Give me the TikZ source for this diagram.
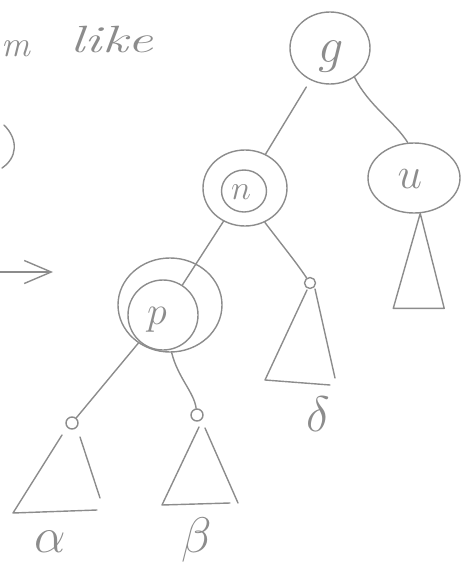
\RequirePackage{fix-cm}
\documentclass[tikz,border=0pt]{standalone}
\usetikzlibrary{arrows.meta,shapes.geometric}
\definecolor{pencil}{gray}{0.55}

\begin{document}
\begin{tikzpicture}[x=1pt, y=-1pt, line width=1.4pt, line cap=round, line join=round,
  color=pencil,
  bubble/.style={ellipse, draw, inner sep=0pt},
  knob/.style={circle, draw, inner sep=0pt, minimum size=#1},
  lbl/.style={inner sep=0pt, font=\fontsize{#1}{#1}\selectfont},
  hand/.style={inner sep=0pt, font=\fontsize{#1}{#1}\selectfont\itshape}]
  \useasboundingbox (0,0) rectangle (466,562);

  % left-over scribbles of the text beside the tree
  \node[hand=36] (word-m) at (16,49) {m};
  \node[hand=38, xscale=1.5] (word-like) at (112,40) {like};
  \draw (4,125) .. controls (19,140) and (17,158) .. (2,168);
  \coordinate (arr-s) at (-2,272);
  \coordinate (arr-e) at (53,272);
  \draw[-{Straight Barb[length=27pt,width=23pt]}] (arr-s) -- (arr-e);

  % nodes
  \node[bubble, minimum width=80pt, minimum height=72pt] (g) at (330,48) {};
  \node[bubble, minimum width=92pt, minimum height=70pt] (u) at (414,178) {};
  \node[bubble, minimum width=84pt, minimum height=76pt] (n) at (245,188) {};
  \node[bubble, minimum width=45pt, minimum height=42pt] (n-in) at (244,191) {};
  \node[bubble, minimum width=104pt, minimum height=94pt] (p) at (170,305) {};
  \node[bubble, minimum width=70pt, minimum height=70pt] (p-in) at (163,315) {};
  \node[knob=12pt] (a-root) at (72,423) {};
  \node[knob=12pt] (b-root) at (197,415) {};
  \node[knob=11pt] (d-root) at (310,283) {};

  \node[lbl=50] (g-lbl) at (331,57) {$g$};
  \node[lbl=44] (u-lbl) at (410,179) {$u$};
  \node[lbl=34] (n-lbl) at (241,192) {$n$};
  \node[lbl=40] (p-lbl) at (157,320) {$p$};

  % edges
  \draw[shorten <=8pt] (g) -- (n);
  \draw (g.-50) .. controls (368,105) and (395,122) .. (u.100);
  \draw (n) -- (p-in);
  \draw (n.-60) .. controls (282,245) and (296,262) .. (d-root);
  \draw (p) -- (a-root);
  \draw (p.-88) .. controls (178,378) and (194,392) .. (b-root);

  % subtrees
  \draw (a-root) ++(-10,12) -- ++(-49,78) -- ++(84,-3);
  \draw (a-root) ++(8,14) -- ++(20,61);
  \draw (b-root) ++(2,12) -- ++(-37,78) -- ++(68,-2);
  \draw (b-root) ++(8,13) -- ++(33,75);
  \draw (d-root) ++(-3,7) -- ++(-42,90) -- ++(65,5);
  \draw (d-root) ++(5,6) -- ++(20,89);
  \draw (u.-80) -- ++(-27,95) -- ++(51,0) -- cycle;

  \node[lbl=50] (a-lbl) at (50,542) {$\alpha$};
  \node[lbl=50] (b-lbl) at (197,540) {$\beta$};
  \node[lbl=50] (d-lbl) at (318,414) {$\delta$};
\end{tikzpicture}
\end{document}
